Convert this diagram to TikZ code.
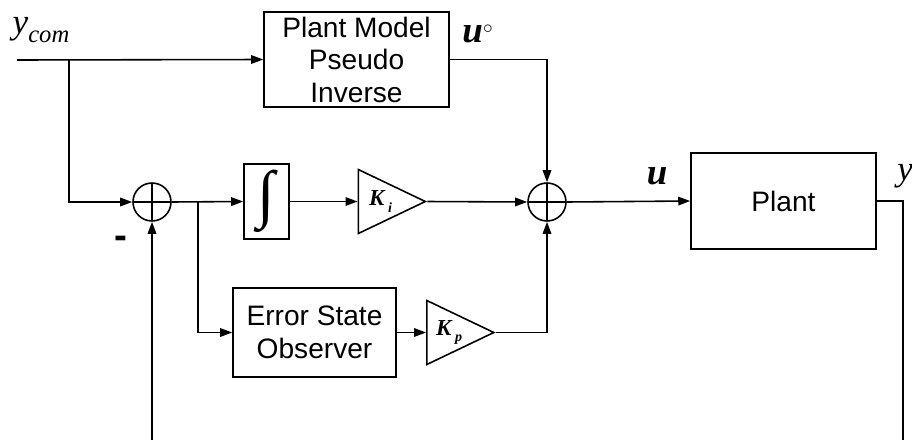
\documentclass[tikz,border=0pt]{standalone}
\usepackage{fontspec}
\setmainfont{Liberation Sans}
\newfontfamily\timesfont{Liberation Serif}
\usepackage{tikz}
\usetikzlibrary{arrows.meta,shapes.geometric,calc}

\tikzset{
	wire/.style={line width=0.9pt},
	sig/.style={wire,-{Triangle[length=2.4mm,width=1.7mm]}},
	block/.style={draw,wire,align=center,inner sep=0pt,font=\fontsize{16}{18.5}\selectfont},
	sumnode/.style={draw,wire,circle,minimum size=0.76cm,inner sep=0pt,
		path picture={\draw[wire] (path picture bounding box.north) -- (path picture bounding box.south)
			(path picture bounding box.west) -- (path picture bounding box.east);}},
	gain/.style={draw,wire,isosceles triangle,isosceles triangle stretches,inner sep=0pt,
		minimum width=1.28cm,minimum height=1.34cm},
	gainlab/.style={font=\timesfont\bfseries\itshape\fontsize{13}{13}\selectfont,inner sep=0pt},
	sym/.style={font=\timesfont\itshape\fontsize{20}{20}\selectfont,inner sep=0pt}
}

\begin{document}
\begin{tikzpicture}[x=0.02cm,y=-0.02cm]
	\useasboundingbox (0,0) rectangle (912,443);
	% blocks
	\node[block,minimum width=3.70cm,minimum height=1.90cm] (pmi) at (356.5,59.5) {Plant Model\\Pseudo\\Inverse};
	\node[sumnode] (sum1) at (152,202) {};
	\node[block,minimum width=0.90cm,minimum height=1.50cm] (integ) at (266.5,201.5) {\resizebox*{!}{1.25cm}{\timesfont ∫}};
	\node[gain] (ki) at (378.5,201.5) {};
	\node[sumnode] (sum2) at (547,202) {};
	\node[block,minimum width=3.70cm,minimum height=1.92cm] (plant) at (783.5,201) {Plant};
	\node[block,minimum width=3.26cm,minimum height=1.78cm] (eso) at (314.5,332.5) {Error State\\Observer};
	\node[gain] (kp) at (447,332.5) {};
	% labels
	\node[sym] (ycom) at (41,30) {y\raisebox{-0.55ex}{\fontsize{14}{14}\selectfont com}};
	\node[sym,font=\timesfont\bfseries\itshape\fontsize{21}{21}\selectfont] (uo) at (478,34) {u\fontsize{15}{15}\selectfont$^\circ$};
	\node[sym,font=\timesfont\bfseries\itshape\fontsize{21}{21}\selectfont] (ulab) at (657,176) {u};
	\node[sym,anchor=west] (ylab) at (897,176) {y};
	\node[font=\bfseries\fontsize{22}{22}\selectfont,inner sep=0pt] (minus) at (121,242) {-};
	\node[gainlab] (kilab) at ($(ki.west)+(23,0)$) {K\,\raisebox{-0.6ex}{\fontsize{8}{8}\selectfont i}};
	\node[gainlab] (kplab) at ($(kp.west)+(23,0)$) {K\,\raisebox{-0.6ex}{\fontsize{8}{8}\selectfont p}};
	% free ends
	\coordinate (in) at (17,60);
	\coordinate (br1) at (69,60);
	\coordinate (br2) at (198,202);
	\coordinate (fb1) at (152,440);
	\coordinate (fb2) at (903,440);
	% connectors
	\draw[sig] (in) -- (pmi.west);
	\draw[sig] (br1) |- (sum1.west);
	\draw[sig] (sum1.east) -- (integ.west);
	\draw[sig] (br2) |- (eso.west);
	\draw[sig] (integ.east) -- (ki.west);
	\draw[sig] (ki.east) -- (sum2.west);
	\draw[sig] (pmi.east) -| (sum2.north);
	\draw[sig] (eso.east) -- (kp.west);
	\draw[sig] (kp.east) -| (sum2.south);
	\draw[sig] (sum2.east) -- (plant.west);
	\draw[sig] (fb1) -- (sum1.south);
	\draw[wire] (plant.east) -| (fb2);
\end{tikzpicture}
\end{document}
